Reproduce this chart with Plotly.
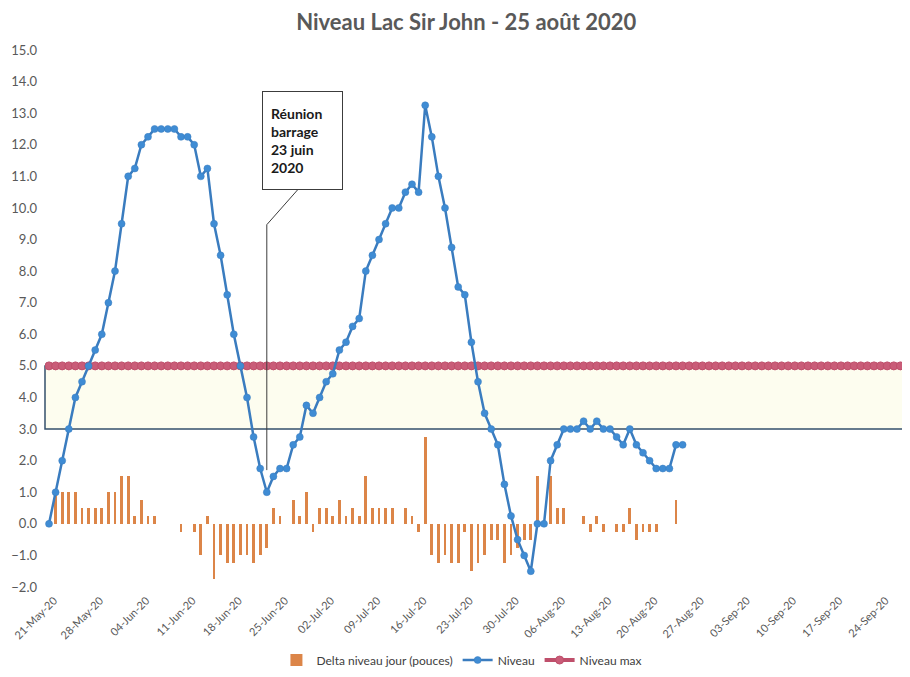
import pandas as pd
import plotly.graph_objects as go

# ---------------- data ----------------
START = "2020-05-21"
N_DAYS = 97  # 21 May -> 25 Aug 2020
dates = pd.date_range(START, periods=N_DAYS, freq="D")

niveau = [
    0.0, 1.0, 2.0, 3.0, 4.0, 4.5, 5.0, 5.5, 6.0, 7.0,
    8.0, 9.5, 11.0, 11.25, 12.0, 12.25, 12.5, 12.5, 12.5, 12.5,
    12.25, 12.25, 12.0, 11.0, 11.25, 9.5, 8.5, 7.25, 6.0, 5.0,
    4.0, 2.75, 1.75, 1.0, 1.5, 1.75, 1.75, 2.5, 2.75, 3.75,
    3.5, 4.0, 4.5, 4.75, 5.5, 5.75, 6.25, 6.5, 8.0, 8.5,
    9.0, 9.5, 10.0, 10.0, 10.5, 10.75, 10.5, 13.25, 12.25, 11.0,
    10.0, 8.75, 7.5, 7.25, 5.75, 4.5, 3.5, 3.0, 2.5, 1.25,
    0.25, -0.5, -1.0, -1.5, 0.0, 0.0, 2.0, 2.5, 3.0, 3.0,
    3.0, 3.25, 3.0, 3.25, 3.0, 3.0, 2.75, 2.5, 3.0, 2.5,
    2.25, 2.0, 1.75, 1.75, 1.75, 2.5, 2.5,
]

delta = [
    None,
    1.0, 1.0, 1.0, 1.0, 0.5, 0.5, 0.5, 0.5, 1.0, 1.0,
    1.5, 1.5, 0.25, 0.75, 0.25, 0.25, 0, 0, 0, -0.25,
    0, -0.25, -1.0, 0.25, -1.75, -1.0, -1.25, -1.25, -1.0, -1.0,
    -1.25, -1.0, -0.75, 0.5, 0.25, 0, 0.75, 0.25, 1.0, -0.25,
    0.5, 0.5, 0.25, 0.75, 0.25, 0.5, 0.25, 1.5, 0.5, 0.5,
    0.5, 0.5, 0, 0.5, 0.25, -0.25, 2.75, -1.0, -1.25, -1.0,
    -1.25, -1.25, -0.25, -1.5, -1.25, -1.0, -0.5, -0.5, -1.25, -1.0,
    -0.75, -0.5, -0.5, 1.5, 0, 1.5, 0.5, 0.5, 0, 0,
    0.25, -0.25, 0.25, -0.25, 0, -0.25, -0.25, 0.5, -0.5, -0.25,
    -0.25, -0.25, 0, 0, 0.75, 0,
]

NIVEAU_MAX = 5.0
NIVEAU_MIN_BAND = 3.0
max_dates = pd.date_range(START, "2020-09-30", freq="D")
niveau_max = [NIVEAU_MAX for _ in max_dates]

REUNION_DATE = "2020-06-23"
REUNION_TEXT = "Réunion<br>barrage<br>23 juin<br>2020"
TITLE = "Niveau Lac Sir John - 25 août 2020"

# ---------------- style / geometry ----------------
# the page body has an 8px margin, so the figure is sized to fill the rest
W, H = 902, 661
ML, MR, MT, MB = 37, 0, 42, 82
PX_PER_DAY = 6.6
FIRST_PX = 41  # figure pixel of the first day
start_ts = pd.Timestamp(START)
day = pd.Timedelta(days=1)
x_lo = start_ts - day * ((FIRST_PX - ML) / PX_PER_DAY)
x_hi = x_lo + day * ((W - ML - MR) / PX_PER_DAY)

GREY = "#595959"
ORANGE = "#dc8548"
BLUE_LINE = "#3a7cbf"
BLUE_MK = "#3f8cd4"
RED_LINE = "#bf4f6b"
RED_MK = "#c95c78"
FONT = "Lato"

fig = go.Figure()

fig.add_trace(go.Bar(
    x=dates, y=delta, name="Delta niveau jour (pouces)",
    marker=dict(color=ORANGE, line=dict(width=0)),
    width=0.4 * 86400000, legendrank=1,
))
fig.add_trace(go.Scatter(
    x=max_dates, y=niveau_max, name="Niveau max", mode="lines+markers",
    line=dict(color=RED_LINE, width=4),
    marker=dict(color=RED_MK, size=8, line=dict(color=RED_LINE, width=1)),
    legendrank=3,
))
fig.add_trace(go.Scatter(
    x=dates, y=niveau, name="Niveau", mode="lines+markers",
    line=dict(color=BLUE_LINE, width=2.5),
    marker=dict(color=BLUE_MK, size=7, line=dict(color=BLUE_LINE, width=0.5)),
    legendrank=2,
))

# band between 3 and 5
fig.add_shape(type="rect", xref="paper", yref="y", x0=0, x1=1,
              y0=NIVEAU_MIN_BAND, y1=NIVEAU_MAX, layer="below",
              fillcolor="#fdfdef", line=dict(color="#34506c", width=1.5))

# callout pointer
reunion_ts = pd.Timestamp(REUNION_DATE)
elbow_y = 9.47
fig.add_shape(type="line", xref="x", yref="y",
              x0=reunion_ts, x1=reunion_ts, y0=1.7, y1=elbow_y,
              line=dict(color="#3c3c3c", width=1))
fig.add_shape(type="line", xref="x", yref="y",
              x0=reunion_ts, x1=reunion_ts + day * 4.7, y0=elbow_y, y1=10.58,
              line=dict(color="#3c3c3c", width=1))

fig.add_annotation(
    x=reunion_ts + day * 5.4, y=12.14, xref="x", yref="y",
    text=REUNION_TEXT, showarrow=False, align="left", valign="middle",
    width=63, height=81, borderpad=8, borderwidth=1, bordercolor="#3c3c3c",
    bgcolor="white",
    font=dict(family=FONT, size=14, color="#1a1a1a", weight="bold"),
)

fig.update_layout(
    width=W, height=H, autosize=False,
    margin=dict(l=ML, r=MR, t=MT, b=MB, autoexpand=False),
    paper_bgcolor="white", plot_bgcolor="white",
    font=dict(family=FONT, color=GREY),
    title=dict(text=TITLE, x=0.508, xref="container", y=1 - 14 / H,
               yref="container", xanchor="center", yanchor="middle",
               font=dict(family=FONT, size=22, color=GREY, weight="bold")),
    showlegend=True,
    legend=dict(orientation="h", x=0.482, xanchor="center", y=-0.136,
                yanchor="middle", font=dict(size=12, color="#404040"),
                itemwidth=30),
    bargap=0,
)
fig.update_xaxes(
    type="date", range=[x_lo, x_hi], tick0=START, dtick=7 * 86400000,
    tickformat="%d-%b-%y", tickangle=-45, showgrid=False, zeroline=False,
    showline=False, ticks="", tickfont=dict(size=11, color=GREY),
    automargin=False, ticklabeloverflow="allow",
    ticklabelshift=5, ticklabelstandoff=4,
)
fig.update_yaxes(
    range=[-2, 15], dtick=1, tickformat=".1f", showgrid=False,
    zeroline=False, showline=False, ticks="",
    tickfont=dict(size=13, color=GREY), automargin=False,
    ticklabelstandoff=7,
)

fig.write_html("out.html")
